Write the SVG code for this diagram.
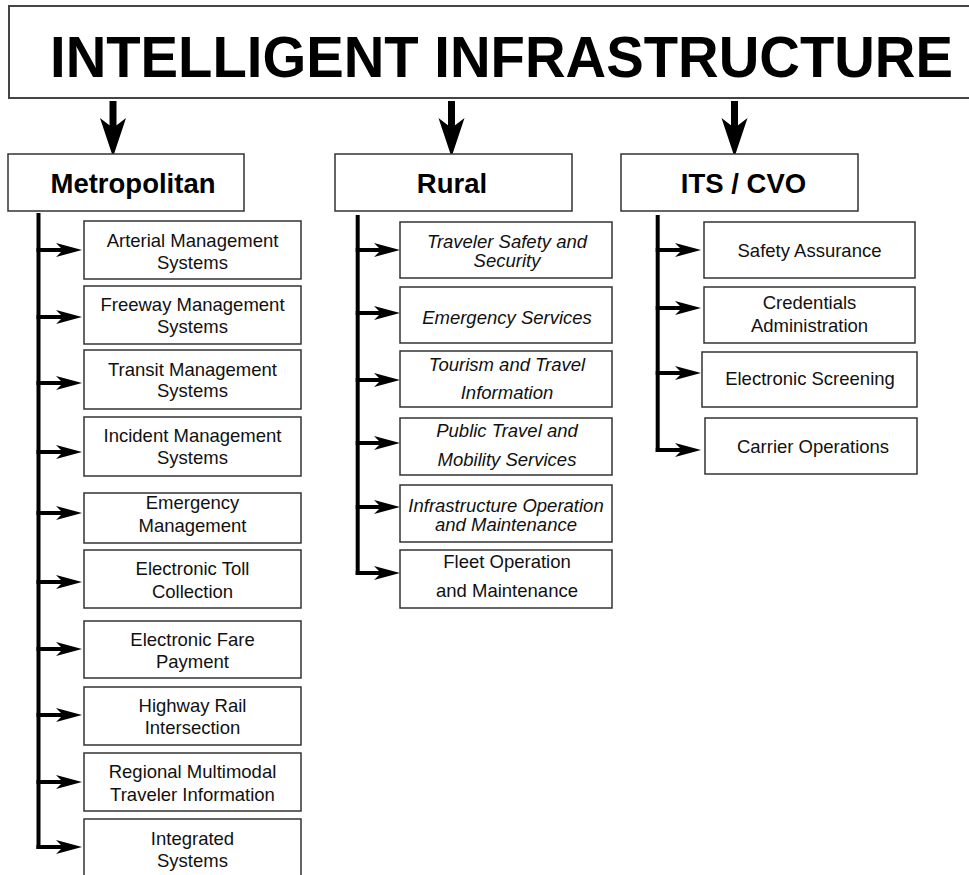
<svg xmlns="http://www.w3.org/2000/svg" width="969" height="875" viewBox="0 0 969 875">
<style>
.box{fill:#fff;stroke:#333;stroke-width:1.5}
.tbox{fill:#fff;stroke:#444;stroke-width:2}
.t{font-family:"Liberation Sans",Arial,sans-serif;font-size:18.5px;fill:#111;text-anchor:middle}
.i{font-style:italic}
.h{font-family:"Liberation Sans",Arial,sans-serif;font-size:27.5px;font-weight:bold;fill:#000;text-anchor:middle}
.title{font-family:"Liberation Sans",Arial,sans-serif;font-size:57px;font-weight:bold;fill:#000;text-anchor:middle}
.br{stroke:#000;stroke-width:4;fill:none}
.dn{stroke:#000;stroke-width:7;fill:none}
</style>
<defs>
<marker id="ah" markerUnits="userSpaceOnUse" markerWidth="26" markerHeight="14" refX="8" refY="7" orient="auto" overflow="visible">
<path d="M0,0 L26,7 L0,14 L7,7 z" fill="#000"/>
</marker>
<marker id="bh" markerUnits="userSpaceOnUse" markerWidth="39" markerHeight="26" refX="11" refY="13" orient="auto" overflow="visible">
<path d="M0,0 L39,13 L0,26 L10,13 z" fill="#000"/>
</marker>
</defs>

<g id="root">
<rect class="tbox" x="9" y="6" width="975" height="92"/>
<text class="title" x="501.5" y="77" textLength="903" lengthAdjust="spacingAndGlyphs">INTELLIGENT INFRASTRUCTURE</text>
</g>

<g id="connectors">
<path class="dn" d="M113,101 V129" marker-end="url(#bh)"/>
<path class="dn" d="M451.5,101 V129" marker-end="url(#bh)"/>
<path class="dn" d="M734.5,101 V129" marker-end="url(#bh)"/>

<path class="br" d="M38.5,213 V849"/>
<path class="br" d="M36.5,250 H64" marker-end="url(#ah)"/>
<path class="br" d="M36.5,317 H64" marker-end="url(#ah)"/>
<path class="br" d="M36.5,383 H64" marker-end="url(#ah)"/>
<path class="br" d="M36.5,452 H64" marker-end="url(#ah)"/>
<path class="br" d="M36.5,513 H64" marker-end="url(#ah)"/>
<path class="br" d="M36.5,582 H64" marker-end="url(#ah)"/>
<path class="br" d="M36.5,649 H64" marker-end="url(#ah)"/>
<path class="br" d="M36.5,715 H64" marker-end="url(#ah)"/>
<path class="br" d="M36.5,782 H64" marker-end="url(#ah)"/>
<path class="br" d="M36.5,847 H64" marker-end="url(#ah)"/>

<path class="br" d="M357.7,215 V575"/>
<path class="br" d="M355.7,250 H382" marker-end="url(#ah)"/>
<path class="br" d="M355.7,313 H382" marker-end="url(#ah)"/>
<path class="br" d="M355.7,380 H382" marker-end="url(#ah)"/>
<path class="br" d="M355.7,443 H382" marker-end="url(#ah)"/>
<path class="br" d="M355.7,507 H382" marker-end="url(#ah)"/>
<path class="br" d="M355.7,573 H382" marker-end="url(#ah)"/>

<path class="br" d="M657.7,215 V452"/>
<path class="br" d="M655.7,250 H683" marker-end="url(#ah)"/>
<path class="br" d="M655.7,308 H683" marker-end="url(#ah)"/>
<path class="br" d="M655.7,373 H683" marker-end="url(#ah)"/>
<path class="br" d="M655.7,450 H683" marker-end="url(#ah)"/>
</g>

<g id="metropolitan">
<rect class="box" x="8" y="154" width="236" height="57"/>
<text class="h" x="133" y="193">Metropolitan</text>
</g>
<g id="rural">
<rect class="box" x="335" y="154" width="237" height="57"/>
<text class="h" x="452" y="193">Rural</text>
</g>
<g id="itscvo">
<rect class="box" x="621" y="154" width="237" height="57"/>
<text class="h" x="743.5" y="193">ITS / CVO</text>
</g>

<g id="m1"><rect class="box" x="84" y="221" width="217" height="58"/>
<text class="t" x="192.5" y="246.7">Arterial Management</text><text class="t" x="192.5" y="268.5">Systems</text></g>
<g id="m2"><rect class="box" x="84" y="286" width="217" height="58"/>
<text class="t" x="192.5" y="310.7">Freeway Management</text><text class="t" x="192.5" y="332.7">Systems</text></g>
<g id="m3"><rect class="box" x="84" y="350" width="217" height="59"/>
<text class="t" x="192.5" y="375.7">Transit Management</text><text class="t" x="192.5" y="397.3">Systems</text></g>
<g id="m4"><rect class="box" x="84" y="417" width="217" height="59"/>
<text class="t" x="192.5" y="442.3">Incident Management</text><text class="t" x="192.5" y="464.3">Systems</text></g>
<g id="m5"><rect class="box" x="84" y="493" width="217" height="50"/>
<text class="t" x="192.5" y="509">Emergency</text><text class="t" x="192.5" y="531.7">Management</text></g>
<g id="m6"><rect class="box" x="84" y="550" width="217" height="58"/>
<text class="t" x="192.5" y="575">Electronic Toll</text><text class="t" x="192.5" y="597.7">Collection</text></g>
<g id="m7"><rect class="box" x="84" y="621" width="217" height="57"/>
<text class="t" x="192.5" y="646">Electronic Fare</text><text class="t" x="192.5" y="668.3">Payment</text></g>
<g id="m8"><rect class="box" x="84" y="687" width="217" height="58"/>
<text class="t" x="192.5" y="711.7">Highway Rail</text><text class="t" x="192.5" y="734">Intersection</text></g>
<g id="m9"><rect class="box" x="84" y="753" width="217" height="58"/>
<text class="t" x="192.5" y="778.3">Regional Multimodal</text><text class="t" x="192.5" y="800.7">Traveler Information</text></g>
<g id="m10"><rect class="box" x="84" y="819" width="217" height="60"/>
<text class="t" x="192.5" y="845">Integrated</text><text class="t" x="192.5" y="866.7">Systems</text></g>

<g id="r1"><rect class="box" x="400" y="222" width="212" height="56"/>
<text class="t i" x="507" y="248">Traveler Safety and</text><text class="t i" x="507" y="267">Security</text></g>
<g id="r2"><rect class="box" x="400" y="287" width="212" height="56"/>
<text class="t i" x="507" y="324">Emergency Services</text></g>
<g id="r3"><rect class="box" x="400" y="351" width="212" height="56"/>
<text class="t i" x="507" y="371">Tourism and Travel</text><text class="t i" x="507" y="399">Information</text></g>
<g id="r4"><rect class="box" x="400" y="418" width="212" height="57"/>
<text class="t i" x="507" y="437">Public Travel and</text><text class="t i" x="507" y="466">Mobility Services</text></g>
<g id="r5"><rect class="box" x="400" y="485" width="212" height="57"/>
<text class="t i" x="506" y="512">Infrastructure Operation</text><text class="t i" x="506" y="531">and Maintenance</text></g>
<g id="r6"><rect class="box" x="400" y="550" width="212" height="58"/>
<text class="t" x="507" y="568">Fleet Operation</text><text class="t" x="507" y="597">and Maintenance</text></g>

<g id="c1"><rect class="box" x="704" y="222" width="211" height="56"/>
<text class="t" x="809.5" y="257">Safety Assurance</text></g>
<g id="c2"><rect class="box" x="704" y="287" width="211" height="56"/>
<text class="t" x="809.5" y="309">Credentials</text><text class="t" x="809.5" y="332">Administration</text></g>
<g id="c3"><rect class="box" x="702" y="352" width="215" height="55"/>
<text class="t" x="810" y="385">Electronic Screening</text></g>
<g id="c4"><rect class="box" x="705" y="418" width="212" height="56"/>
<text class="t" x="813" y="453">Carrier Operations</text></g>
</svg>
